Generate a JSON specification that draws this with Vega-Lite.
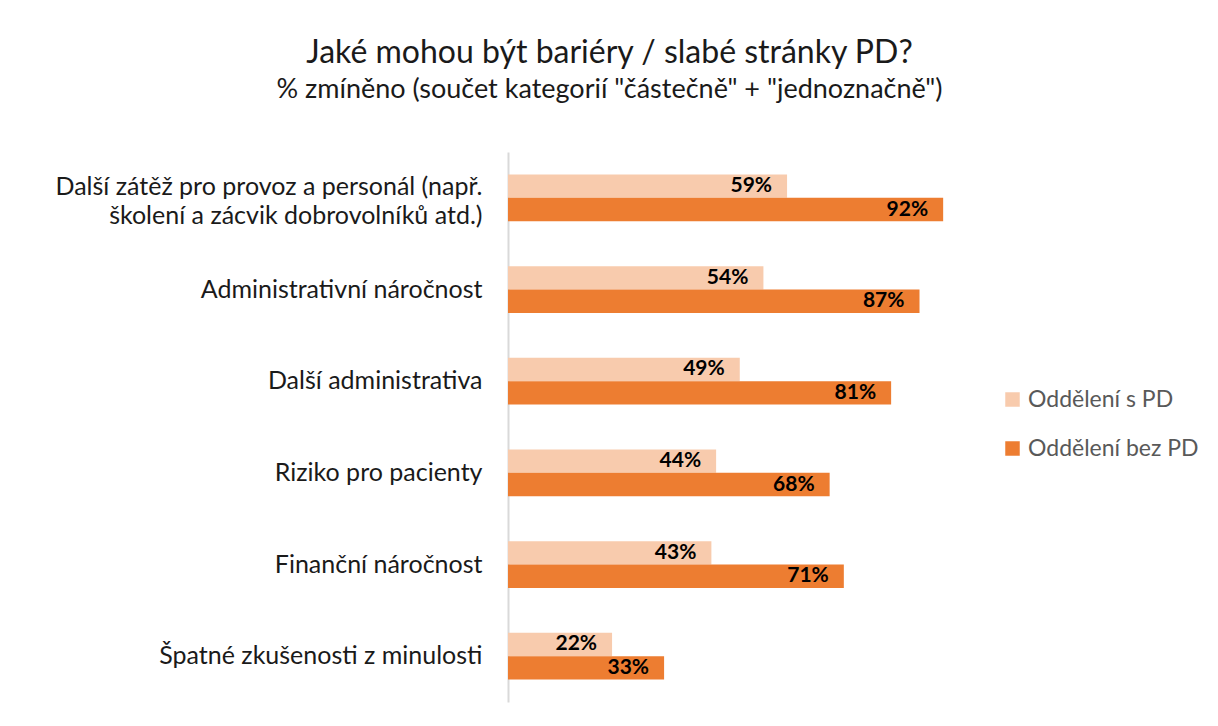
{
  "$schema": "https://vega.github.io/schema/vega-lite/v6.json",
  "autosize": "none",
  "width": 473,
  "height": 550,
  "padding": {"left": 508, "top": 152, "right": 237, "bottom": 24},
  "background": "white",
  "title": {
    "text": "Jaké mohou být bariéry / slabé stránky PD?",
    "subtitle": "% zmíněno (součet kategorií \"částečně\" + \"jednoznačně\")",
    "anchor": "middle",
    "frame": "group",
    "dx": -135,
    "offset": 48,
    "font": "Lato",
    "fontSize": 32,
    "fontWeight": "normal",
    "color": "#1a1a1a",
    "subtitleFont": "Lato",
    "subtitleFontSize": 27,
    "subtitleColor": "#1a1a1a",
    "subtitlePadding": 7
  },
  "data": {
    "values": [
      {"category": "Další zátěž pro provoz a personál (např. školení a zácvik dobrovolníků atd.)", "series": "Oddělení s PD", "value": 59},
      {"category": "Další zátěž pro provoz a personál (např. školení a zácvik dobrovolníků atd.)", "series": "Oddělení bez PD", "value": 92},
      {"category": "Administrativní náročnost", "series": "Oddělení s PD", "value": 54},
      {"category": "Administrativní náročnost", "series": "Oddělení bez PD", "value": 87},
      {"category": "Další administrativa", "series": "Oddělení s PD", "value": 49},
      {"category": "Další administrativa", "series": "Oddělení bez PD", "value": 81},
      {"category": "Riziko pro pacienty", "series": "Oddělení s PD", "value": 44},
      {"category": "Riziko pro pacienty", "series": "Oddělení bez PD", "value": 68},
      {"category": "Finanční náročnost", "series": "Oddělení s PD", "value": 43},
      {"category": "Finanční náročnost", "series": "Oddělení bez PD", "value": 71},
      {"category": "Špatné zkušenosti z minulosti", "series": "Oddělení s PD", "value": 22},
      {"category": "Špatné zkušenosti z minulosti", "series": "Oddělení bez PD", "value": 33}
    ]
  },
  "transform": [{"calculate": "datum.value + '%'", "as": "label"}],
  "encoding": {
    "y": {
      "field": "category",
      "type": "nominal",
      "sort": null,
      "scale": {"paddingInner": 0.49, "paddingOuter": 0.245},
      "axis": {
        "title": null,
        "ticks": false,
        "domainColor": "#d9d9d9",
        "domainWidth": 2,
        "labelFont": "Lato",
        "labelFontSize": 25,
        "labelColor": "#1a1a1a",
        "labelPadding": 26,
        "labelLimit": 600,
        "labelLineHeight": 29,
        "labelOffset": {"condition": {"test": "indexof(datum.value, '(např.') > 0", "value": -11}, "value": 0},
        "labelExpr": "indexof(datum.value, '(např.') > 0 ? ['Další zátěž pro provoz a personál (např.', 'školení a zácvik dobrovolníků atd.)'] : datum.value"
      }
    },
    "yOffset": {
      "field": "series",
      "type": "nominal",
      "sort": ["Oddělení s PD", "Oddělení bez PD"],
      "scale": {"paddingInner": 0, "paddingOuter": 0}
    },
    "x": {
      "field": "value",
      "type": "quantitative",
      "scale": {"domain": [0, 100]},
      "axis": null
    }
  },
  "layer": [
    {
      "mark": {"type": "bar"},
      "encoding": {
        "color": {
          "field": "series",
          "type": "nominal",
          "sort": ["Oddělení s PD", "Oddělení bez PD"],
          "scale": {"domain": ["Oddělení s PD", "Oddělení bez PD"], "range": ["#F8CBAD", "#ED7D31"]},
          "legend": {
            "title": null,
            "orient": "none",
            "legendX": 493,
            "legendY": 236,
            "symbolType": "square",
            "symbolSize": 210,
            "symbolStrokeWidth": 0,
            "labelFont": "Lato",
            "labelFontSize": 23,
            "labelLimit": 300,
            "labelColor": "#595959",
            "rowPadding": 25,
            "labelOffset": 4
          }
        }
      }
    },
    {
      "mark": {"type": "text", "align": "right", "dx": -15, "font": "Lato", "fontSize": 21, "fontWeight": "bold", "color": "#000000"},
      "encoding": {"text": {"field": "label"}}
    }
  ],
  "config": {"view": {"stroke": null}}
}
